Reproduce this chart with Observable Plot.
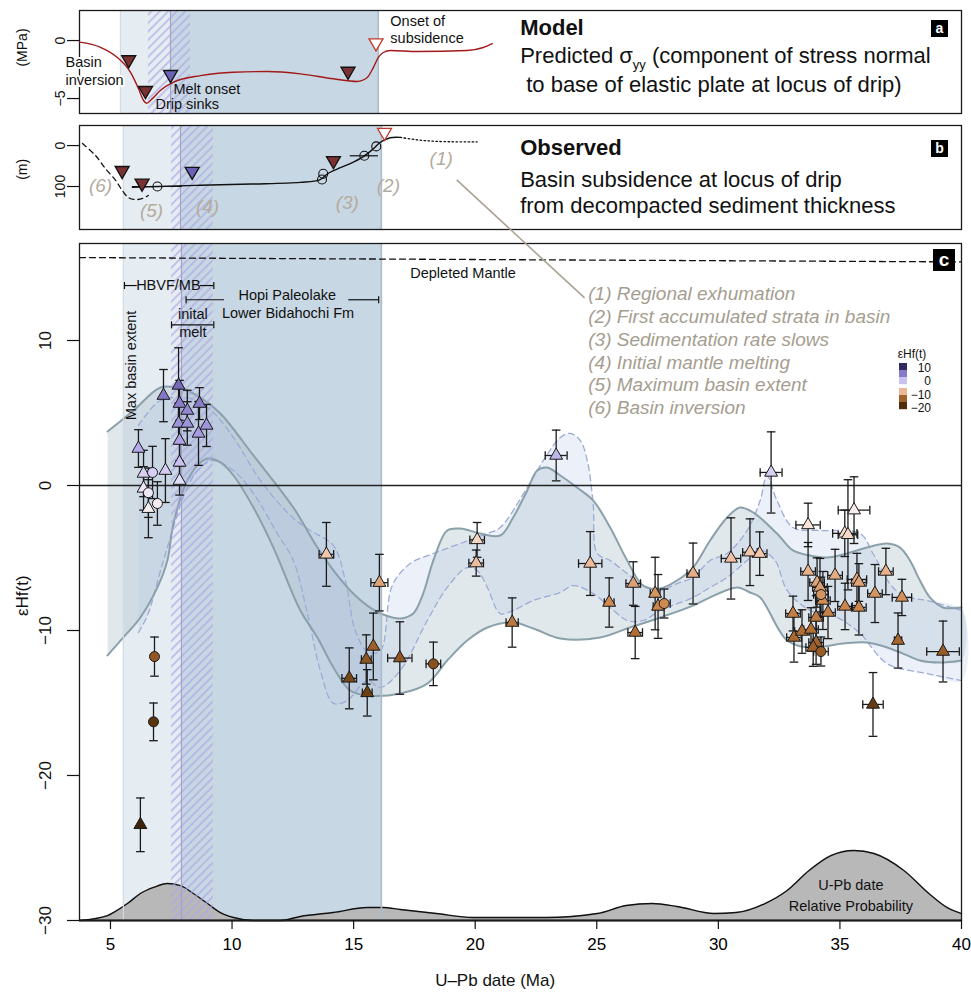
<!DOCTYPE html>
<html><head><meta charset="utf-8">
<script src="https://cdn.jsdelivr.net/npm/d3@7"></script>
<script src="https://cdn.jsdelivr.net/npm/@observablehq/plot@0.6"></script>
<style>
body{margin:0;background:#fff;font-family:"Liberation Sans",Arial,sans-serif;}
#wrap{position:relative;width:971px;height:992px;overflow:hidden;background:#fff;}
.tag{position:absolute;background:#000;color:#fff;font-weight:bold;text-align:center;font-family:"Liberation Sans",Arial,sans-serif;}
</style></head><body><div id="wrap"></div>
<script>
// ---------------- shared ----------------
const X_DOMAIN = [3.726, 40];
const xTicksC = [5, 10, 15, 20, 25, 30, 35, 40];

// shaded periods [start, end] (Ma) per panel
const bandLightA = [5.41, 16.01], bandDarkA = [7.47, 16.01], hatchA = [6.56, 8.29];
const bandLightB = [5.53, 16.14], bandDarkB = [7.88, 16.14], hatchB = [7.51, 9.23];
const bandLightC = [5.53, 16.14], bandDarkC = [7.92, 16.14], hatchC = [7.51, 9.23];

// ---------------- panel a : model ----------------
const yDomainA = [-6.29, 2.59];
const yTicksA = [0, -5];
const modelAge = [3.73, 4.59, 5.27, 5.82, 6.15, 6.36, 6.48, 6.71, 7.05, 7.59, 8.7, 10.06, 11.45, 12.81, 14.17, 15.15, 15.56, 15.81, 16.01, 16.22, 16.51, 17.62, 19.67, 20.33, 20.7];
const modelSigma = [-0.14, -0.58, -1.44, -2.73, -4.14, -5.17, -5.4, -5.03, -4.31, -3.59, -3.02, -2.73, -2.67, -2.87, -3.3, -3.53, -3.19, -2.33, -1.47, -1.03, -0.86, -0.95, -0.86, -0.6, -0.26];
const markAAge = [5.75, 6.44, 7.47, 14.77, 15.92];
const markASigma = [-1.66, -4.31, -2.93, -2.65, -0.2];
const markAType = ["red", "red", "melt", "red", "open"];
const noteAText = ["Basin", "inversion", "Melt onset", "Drip sinks", "Onset of", "subsidence"];
const noteAAge = [3.15, 3.15, 7.59, 6.85, 16.51, 16.51];
const noteASigma = [-1.9, -3.45, -4.22, -5.52, 1.64, 0.17];

// ---------------- panel b : observed ----------------
const yDomainB = [205, -49];
const yTicksB = [0, 100];
const subAge = [5.9, 6.97, 8.7, 10.8, 12.8, 13.6, 13.9, 14.3, 14.86, 15.4, 15.81, 16.1, 16.5, 16.92];
const subDepth = [102, 100, 97, 94, 90, 84, 70, 58, 44, 27, 8, -8, -19, -20];
const subDashAge = [3.85, 4.38, 4.79, 5.21, 5.49, 5.74, 6.03, 6.32, 6.56];
const subDashDepth = [-5, 24, 56, 85, 110, 127, 132, 129, 122];
const subDotAge = [16.92, 17.6, 18.5, 20.08];
const subDotDepth = [-20, -14, -10, -9];
const subCircAge = [6.93, 13.7, 13.75, 15.44, 15.93];
const subCircDepth = [100, 83, 69, 25, 2];
const subCircAgeErr = [1.03, 0, 0, 0.58, 0];
const markBAge = [5.48, 6.3, 8.36, 14.17, 16.27];
const markBDepth = [61, 92, 63, 37, -32];
const markBType = ["red", "red", "melt", "red", "open"];
const eventLabel = ["(1)", "(2)", "(3)", "(4)", "(5)", "(6)"];
const eventAge = [18.6, 16.43, 14.74, 8.99, 6.69, 4.59];
const eventDepth = [32, 98, 139, 151, 159, 98];
const connFrom = [19.26, 85];   // panel b (Ma, m)
const connTo = [24.52, 12.9];   // panel c (Ma, εHf)

// ---------------- panel c : εHf(t) ----------------
const yDomainC = [-30, 16.69];
const yTicksC = [-30, -20, -10, 0, 10];
const hfAge = [6.15, 6.36, 6.36, 6.56, 6.73, 6.56, 6.93, 7.18, 7.26, 7.80, 7.84, 8.16, 8.66, 7.80, 8.16, 8.95, 8.62, 7.84, 7.84, 7.84,
  6.81, 6.77, 6.23,
  13.88, 14.82, 15.52, 15.56, 15.81, 16.06, 16.9, 18.28, 20.08, 20.04, 21.52, 23.33, 24.73, 25.51, 26.5, 26.58, 27.4, 27.52, 27.77, 28.96, 30.52, 31.3, 31.7, 32.17,
  33.69, 35.58, 35.2, 35.33, 33.69, 34.06, 34.18, 34.8, 34.3, 34.22, 34.51, 35.21, 35.7, 35.78, 35.78, 36.44, 36.89, 37.55, 37.39, 39.24, 36.36, 33.07, 33.11, 33.44, 33.81, 34.02, 34.02, 33.9, 34.22];
const hfEps = [2.55, 0.83, -0.2, -1.6, 0.9, -0.5, -1.24, 6.2, 1.03, 6.9, 5.65, 5.17, 5.65, 4.28, 4.28, 4.14, 3.59, 3.1, 1.59, 0.34,
  -11.8, -16.3, -23.4,
  -4.75, -13.3, -12.0, -14.3, -11.1, -6.7, -11.9, -12.3, -3.75, -5.35, -9.45, 2.07, -5.38, -8.07, -6.76, -10.14, -7.45, -8.34, -8.14, -6.07, -5.03, -4.6, -4.7, 0.9,
  -2.72, -1.7, -3.3, -3.4, -5.93, -6.69, -7.03, -6.2, -7.93, -7.52, -8.76, -8.34, -6.48, -6.69, -8.41, -7.45, -5.93, -7.72, -10.69, -11.45, -15.1, -8.83, -10.48, -10.07, -9.93, -9.1, -10.83, -11.17, -11.45];
const hfErr = [1.3, 1.6, 1.5, 2.0, 1.8, 1.7, 1.5, 1.8, 2.2, 2.6, 1.6, 1.4, 1.1, 1.4, 1.5, 1.45, 2.2, 1.4, 1.3, 1.0,
  1.35, 1.3, 1.85,
  2.2, 2.1, 1.7, 1.6, 2.3, 1.95, 2.5, 1.5, 1.2, 0.9, 1.7, 1.75, 2.2, 1.7, 1.5, 1.8, 2.5, 2.2, 1.0, 2.1, 2.8, 2.3, 1.5, 2.8,
  1.5, 2.3, 1.6, 3.8, 2.0, 1.7, 2.0, 1.8, 2.0, 1.2, 1.8, 1.6, 1.8, 1.3, 1.9, 2.0, 1.6, 1.25, 1.9, 2.1, 2.2, 1.2, 1.7, 1.5, 1.5, 1.5, 1.5, 1.3, 1.0];
const hfAgeErr = [0, 0, 0, 0, 0, 0, 0, 0, 0, 0, 0, 0, 0, 0, 0, 0, 0, 0, 0, 0,
  0, 0, 0,
  0.3, 0.3, 0.2, 0.2, 0, 0.35, 0.5, 0.3, 0.3, 0.3, 0.25, 0.45, 0.48, 0.2, 0.3, 0.3, 0.2, 0.2, 0.25, 0.25, 0.4, 0.3, 0.3, 0.45,
  0.5, 0.65, 0.5, 0.4, 0.3, 0.3, 0.3, 0.3, 0.3, 0.3, 0.3, 0.3, 0.4, 0.3, 0.3, 0.3, 0.3, 0.4, 0.15, 0.67, 0.42, 0.3, 0.3, 0.3, 0.3, 0.3, 0.3, 0.3, 0.3];
const hfShape = ["t","t","t","t","c","c","c","t","t","t","t","t","t","t","t","t","t","t","t","t",
  "c","c","t",
  "t","t","t","t","t","t","t","c","t","t","t","t","t","t","t","t","t","t","c","t","t","t","t","t",
  "t","t","t","t","t","t","t","t","t","c","t","t","t","t","t","t","t","t","t","t","t","t","t","t","t","t","t","t","c"];

// envelopes (solid = A, dashed = B)
const envAUpAge = [4.88, 5.95, 7.06, 7.88, 8.70, 9.52, 10.88, 12.52, 13.51, 14.17, 14.86, 15.56, 16.22, 16.92, 17.45, 17.86, 18.28, 18.85, 19.39, 20.21, 21.03, 21.56, 22.14, 22.55, 22.96, 23.50, 24.19, 24.85, 25.55, 26.25, 26.91, 27.61, 28.30, 28.96, 29.66, 30.36, 30.89, 31.43, 32.41, 33.07, 33.77, 34.47, 35.29, 36.11, 36.94, 37.47, 37.88, 38.29, 38.70, 39.24, 40.0];
const envAUpEps = [3.72, 5.17, 6.76, 6.69, 6.07, 4.97, 2.07, -1.52, -4.28, -5.86, -7.24, -8.28, -8.90, -9.17, -8.83, -7.45, -5.17, -3.10, -2.97, -3.31, -3.45, -2.21, -0.34, 1.03, 1.24, 0.69, -0.14, -1.03, -2.90, -5.17, -6.90, -7.10, -6.55, -5.66, -3.79, -2.21, -1.52, -1.86, -3.31, -4.48, -4.83, -4.97, -4.69, -4.28, -4.00, -4.28, -5.17, -6.55, -7.72, -8.41, -8.41];
const envALoAge = [4.88, 5.53, 6.23, 6.93, 7.34, 7.59, 8.16, 8.70, 9.03, 9.52, 10.06, 10.88, 11.70, 12.81, 13.51, 14.17, 14.86, 15.56, 16.92, 18.03, 18.85, 19.67, 20.50, 21.56, 22.39, 23.50, 25.14, 26.25, 27.61, 28.96, 29.66, 30.77, 31.30, 31.72, 32.83, 33.77, 35.13, 36.11, 36.94, 37.59, 38.29, 39.11, 40.0];
const envALoEps = [-11.72, -10.48, -9.10, -7.03, -5.17, -2.62, 0.34, 1.59, 1.86, 1.59, 0.69, -1.52, -4.28, -8.62, -10.48, -12.55, -14.14, -14.48, -14.34, -13.66, -12.07, -10.69, -9.79, -9.45, -9.86, -10.55, -10.48, -9.86, -9.10, -8.28, -7.72, -7.03, -7.38, -7.72, -10.69, -11.17, -10.90, -10.83, -11.17, -11.59, -12.07, -12.21, -12.07];
const envBUpAge = [6.15, 7.06, 8.29, 9.23, 10.14, 11.17, 12.40, 13.22, 14.17, 14.66, 15.07, 15.60, 16.10, 16.59, 17.33, 18.28, 19.39, 20.50, 21.03, 22.14, 22.88, 23.50, 23.91, 24.32, 24.61, 24.85, 25.02, 25.55, 26.25, 26.91, 27.61, 28.30, 28.96, 29.66, 30.36, 31.18, 31.72, 32.00, 32.41, 33.07, 34.18, 35.83, 36.36, 37.18, 37.88, 38.58, 40.0];
const envBUpEps = [4.14, 5.86, 6.00, 5.03, 3.10, 0.34, -2.07, -3.10, -4.14, -6.55, -10.0, -11.52, -11.38, -6.90, -5.38, -4.69, -4.00, -3.31, -2.90, -0.14, 1.93, 3.31, 3.59, 3.10, 1.72, -1.24, -4.69, -5.17, -6.07, -6.90, -7.24, -6.76, -6.34, -5.17, -4.69, -3.10, -1.03, 0.69, -1.03, -2.90, -3.10, -3.31, -4.69, -7.03, -7.72, -7.93, -8.62];
const envBLoAge = [6.15, 6.52, 7.18, 8.16, 8.70, 9.23, 10.06, 10.88, 11.86, 12.52, 13.10, 13.63, 14.17, 14.74, 15.56, 16.10, 16.92, 18.03, 18.85, 19.67, 20.08, 20.50, 21.03, 21.56, 22.39, 23.50, 24.03, 24.85, 25.55, 26.25, 26.91, 27.61, 28.96, 29.66, 30.36, 31.18, 31.72, 32.33, 32.83, 33.77, 34.88, 35.83, 36.94, 38.58, 40.0];
const envBLoEps = [-10.14, -8.97, -5.17, -0.14, 1.24, 1.72, 1.03, -0.55, -3.31, -5.17, -8.83, -12.76, -15.03, -14.83, -13.45, -13.93, -12.76, -9.31, -7.03, -5.66, -5.86, -7.03, -8.83, -8.62, -7.93, -7.38, -6.90, -7.45, -8.41, -9.31, -9.31, -8.62, -7.72, -7.03, -6.34, -5.17, -4.48, -5.17, -7.24, -8.62, -9.10, -10.21, -12.28, -12.97, -13.45];

// U-Pb date relative probability (height above the -30 baseline, in axis units)
const denAge = [3.73, 4.88, 5.12, 5.70, 6.23, 6.77, 7.34, 7.88, 8.41, 8.99, 9.52, 10.06, 10.88, 11.99, 12.81, 14.17, 15.56, 16.22, 16.92, 18.40, 19.92, 22.92, 25.02, 26.21, 27.28, 28.30, 29.82, 30.73, 31.92, 32.83, 33.73, 34.63, 35.58, 36.40, 37.63, 38.66, 39.40, 40.0];
const denHeight = [0, 0.34, 0.55, 1.17, 1.86, 2.28, 2.55, 2.41, 1.86, 1.17, 0.55, 0.21, 0, 0, 0.28, 0.55, 0.90, 0.90, 0.76, 0.48, 0.21, 0.21, 0.48, 1.03, 1.17, 0.97, 0.48, 0.55, 1.17, 2.07, 3.45, 4.48, 4.83, 4.62, 3.45, 1.86, 0.90, 0.48];

const dmAge = [3.726, 40];
const dmEps = [15.72, 15.42];

const noteCText = ["HBVF/MB", "Hopi Paleolake", "Lower Bidahochi Fm", "inital", "melt", "Depleted Mantle"];
const noteCAge = [7.38, 12.27, 12.3, 8.39, 8.39, 19.5];
const noteCEps = [13.79, 13.1, 11.88, 11.79, 10.57, 14.62];
const bracketX1 = [5.575, 8.7, 8.11, 14.8, 7.51];
const bracketX2 = [6.1, 9.25, 9.69, 16.03, 9.25];
const bracketEps = [13.79, 13.79, 12.81, 12.81, 11.08];
const bracketEndAge = [5.575, 9.25, 8.11, 16.03, 7.51, 9.25];
const bracketEndEps = [13.79, 13.79, 12.81, 12.81, 11.08, 11.08];
const eventText = ["(1) Regional exhumation", "(2) First accumulated strata in basin", "(3) Sedimentation rate slows", "(4) Initial mantle melting", "(5) Maximum basin extent", "(6) Basin inversion"];
const eventTextEps = [13.24, 11.66, 10.07, 8.48, 6.97, 5.38];
const eventTextAge = 24.65;
const densLabel = ["U-Pb date", "Relative Probability"];
const densLabelAge = 35.45;
const densLabelEps = [-27.6, -29.05];

const colorDomain = [-24, -16, -13, -10, -8, -5, -2, 0, 2.5, 6.5, 10];
const colorRange = ["#3a2106", "#5c360f", "#7a4818", "#b46f35", "#cf8b52", "#f1c2a4", "#fbefe9", "#e8e4f9", "#b5ace8", "#8073c5", "#2f2a5c"];
const legendValues = [10, 6, 1.5, -5.5, -11, -19];
const legendLabels = ["10", "0", "\u221210", "\u221220"];

// ---------------- helpers ----------------
const FONT = "Liberation Sans, Arial, Helvetica, sans-serif";
const W = 971, ML = 79, MR = 10;
const TOP_A = 0, TOP_B = 120, TOP_C = 234;
const LIGHT = "#e5ecf2", DARK = "#c8d7e4";
const wrap = document.getElementById("wrap");
const ns = "http://www.w3.org/2000/svg";
const minus = v => v < 0 ? "\u2212" + Math.abs(v) : String(v);
const capH = {draw(ctx, size) { const r = Math.sqrt(size / Math.PI); ctx.moveTo(-r, 0); ctx.lineTo(r, 0); }};
const capV = {draw(ctx, size) { const r = Math.sqrt(size / Math.PI); ctx.moveTo(0, -r); ctx.lineTo(0, r); }};
const zip = (a, b) => a.map((v, i) => [v, b[i]]);
function addHatch(svg, id) {
  const defs = document.createElementNS(ns, "defs");
  defs.innerHTML = `<pattern id="${id}" patternUnits="userSpaceOnUse" width="6" height="6" patternTransform="rotate(45)"><rect x="0" y="0" width="2" height="6" fill="#aca5e4" fill-opacity="0.6"/></pattern>`;
  svg.insertBefore(defs, svg.firstChild);
}
function place(el, top) { el.style.position = "absolute"; el.style.left = "0px"; el.style.top = top + "px"; wrap.appendChild(el); return el; }
function bandMarks(light, dark, yd) {
  const lo = Math.min(...yd), hi = Math.max(...yd);
  return [
    Plot.rect([light], {x1: d => d[0], x2: d => d[1], y1: lo, y2: hi, fill: LIGHT}),
    Plot.rect([dark], {x1: d => d[0], x2: d => d[1], y1: lo, y2: hi, fill: DARK}),
  ];
}
function hatchMarks(light, dark, hatch, yd, id) {
  const lo = Math.min(...yd), hi = Math.max(...yd);
  return [
    Plot.rect([hatch], {x1: d => d[0], x2: d => d[1], y1: lo, y2: hi, fill: `url(#${id})`}),
    Plot.ruleX([light[0]], {stroke: "#d2dbe4", strokeWidth: 1.2}),
    Plot.ruleX([light[1]], {stroke: "#a9bbcb", strokeWidth: 1.6}),
    Plot.ruleX([dark[0]], {stroke: "#a4a2cc", strokeWidth: 1.2})
  ];
}
function yAxisMarks(ticks, fontSize, labelX) {
  return [
    Plot.axisY({ticks, tickSize: 12, tickFormat: () => "", stroke: "#111", strokeWidth: 1.2, label: null}),
    Plot.text(ticks, {x: X_DOMAIN[0], y: d => d, text: minus, rotate: -90, dx: labelX - ML, fontSize, fill: "#111"})
  ];
}
const markFill = {red: "#7a3131", melt: "#6c62b5", open: "#ffffff"};
const markStroke = {red: "#111", melt: "#111", open: "#c0392b"};

// ---------------- panel a ----------------
const model = zip(modelAge, modelSigma);
const markA = markAAge.map((a, i) => ({age: a, v: markASigma[i], type: markAType[i]}));
const chartA = Plot.plot({
  width: W, height: 120, marginLeft: ML, marginRight: MR, marginTop: 10, marginBottom: 7,
  x: {domain: X_DOMAIN, axis: null},
  y: {domain: yDomainA, axis: null},
  style: {fontFamily: FONT, background: "transparent", overflow: "visible"},
  marks: [
    ...bandMarks(bandLightA, bandDarkA, yDomainA),
    ...hatchMarks(bandLightA, bandDarkA, hatchA, yDomainA, "hatchA"),
    Plot.frame({stroke: "#1a1a1a", strokeWidth: 1.3}),
    ...yAxisMarks(yTicksA, 14, 60),
    Plot.text(["(MPa)"], {x: X_DOMAIN[0], y: -0.6, dx: 22 - ML, rotate: -90, fontSize: 14, fill: "#111"}),
    Plot.text(noteAText, {x: (d, i) => noteAAge[i], y: (d, i) => noteASigma[i], text: d => d, textAnchor: "start", fontSize: 14.5, fill: "#111", stroke: (d, i) => i < 2 ? "white" : "none", strokeWidth: 4}),
    Plot.line(model, {x: d => d[0], y: d => d[1], stroke: "#a31818", strokeWidth: 1.4, curve: "monotone-x"}),
    Plot.dot(markA, {x: "age", y: "v", symbol: "triangle", rotate: 180, r: 5.2, fill: d => markFill[d.type], stroke: d => markStroke[d.type], strokeWidth: 1.3}),
    Plot.text(["Model"], {x: 21.85, y: 1.12, textAnchor: "start", fontSize: 22, fontWeight: "bold", fill: "#111"}),
    Plot.text(["Predicted \u03c3yy (component of stress normal"], {x: 21.85, y: -1.35, textAnchor: "start", fontSize: 22, fill: "#111"}),
    Plot.text(["to base of elastic plate at locus of drip)"], {x: 21.85, y: -3.8, dx: 6, textAnchor: "start", fontSize: 22, fill: "#111"})
  ]
});
addHatch(chartA, "hatchA");
place(chartA, TOP_A);
chartA.querySelectorAll("text").forEach(t => {
  if (t.textContent.includes("\u03c3yy")) {
    t.innerHTML = 'Predicted \u03c3<tspan font-size="13" dy="6">yy</tspan><tspan dy="-6"> (component of stress normal</tspan>';
  }
});

// ---------------- panel b ----------------
const markB = markBAge.map((a, i) => ({age: a, v: markBDepth[i], type: markBType[i]}));
const circB = subCircAge.map((a, i) => ({age: a, v: subCircDepth[i], e: subCircAgeErr[i]}));
const chartB = Plot.plot({
  width: W, height: 114, marginLeft: ML, marginRight: MR, marginTop: 5, marginBottom: 5,
  x: {domain: X_DOMAIN, axis: null},
  y: {domain: yDomainB, axis: null},
  style: {fontFamily: FONT, background: "transparent", overflow: "visible"},
  marks: [
    ...bandMarks(bandLightB, bandDarkB, yDomainB),
    ...hatchMarks(bandLightB, bandDarkB, hatchB, yDomainB, "hatchB"),
    Plot.frame({stroke: "#1a1a1a", strokeWidth: 1.3}),
    ...yAxisMarks(yTicksB, 14, 60),
    Plot.text(["(m)"], {x: X_DOMAIN[0], y: 58, dx: 22 - ML, rotate: -90, fontSize: 14, fill: "#111"}),
    Plot.text(eventLabel, {x: (d, i) => eventAge[i], y: (d, i) => eventDepth[i], text: d => d, fontSize: 19, fontStyle: "italic", fill: "#b3ab9d"}),
    Plot.line(zip(subDashAge, subDashDepth), {x: d => d[0], y: d => d[1], stroke: "#111", strokeWidth: 1.3, strokeDasharray: "5,4", curve: "catmull-rom"}),
    Plot.line(zip(subAge, subDepth), {x: d => d[0], y: d => d[1], stroke: "#111", strokeWidth: 1.4, curve: "catmull-rom"}),
    Plot.line(zip(subDotAge, subDotDepth), {x: d => d[0], y: d => d[1], stroke: "#111", strokeWidth: 1.3, strokeDasharray: "1.5,2.5", curve: "catmull-rom"}),
    Plot.ruleY(circB.filter(d => d.e > 0), {y: "v", x1: d => d.age - d.e, x2: d => d.age + d.e, stroke: "#111", strokeWidth: 1.2}),
    Plot.dot(circB, {x: "age", y: "v", r: 4.5, fill: "none", stroke: "#111", strokeWidth: 1.1}),
    Plot.dot(markB, {x: "age", y: "v", symbol: "triangle", rotate: 180, r: 5.2, fill: d => markFill[d.type], stroke: d => markStroke[d.type], strokeWidth: 1.3}),
    Plot.text(["Observed"], {x: 21.85, y: 7, textAnchor: "start", fontSize: 22, fontWeight: "bold", fill: "#111"}),
    Plot.text(["Basin subsidence at locus of drip"], {x: 21.85, y: 85, textAnchor: "start", fontSize: 22, fill: "#111"}),
    Plot.text(["from decompacted sediment thickness"], {x: 21.85, y: 148, textAnchor: "start", fontSize: 22, fill: "#111"})
  ]
});
addHatch(chartB, "hatchB");
place(chartB, TOP_B);

// ---------------- panel c ----------------
const hf = hfAge.map((a, i) => ({age: a, eps: hfEps[i], err: hfErr[i], aerr: hfAgeErr[i], shape: hfShape[i]}));
const polyA = [...zip(envAUpAge, envAUpEps), ...zip(envALoAge, envALoEps).reverse()];
const polyB = [...zip(envBUpAge, envBUpEps), ...zip(envBLoAge, envBLoEps).reverse()];
const dens = zip(denAge, denHeight);
const brackets = bracketX1.map((x1, i) => ({x1, x2: bracketX2[i], y: bracketEps[i]}));
const chartC = Plot.plot({
  width: W, height: 758, marginLeft: ML, marginRight: MR, marginTop: 9, marginBottom: 72,
  x: {domain: X_DOMAIN, axis: null},
  y: {domain: yDomainC, axis: null},
  color: {type: "linear", domain: colorDomain, range: colorRange},
  style: {fontFamily: FONT, background: "transparent", overflow: "visible"},
  marks: [
    ...bandMarks(bandLightC, bandDarkC, yDomainC),
    Plot.line(polyA, {x: d => d[0], y: d => d[1], fill: "#a6bcc6", fillOpacity: 0.34, stroke: "none", curve: "catmull-rom"}),
    Plot.line(polyB, {x: d => d[0], y: d => d[1], fill: "#b9cbe9", fillOpacity: 0.27, stroke: "none", curve: "catmull-rom"}),
    Plot.line(zip(envBUpAge, envBUpEps), {x: d => d[0], y: d => d[1], stroke: "#9dabd6", strokeWidth: 1.3, strokeDasharray: "6,4", curve: "catmull-rom"}),
    Plot.line(zip(envBLoAge, envBLoEps), {x: d => d[0], y: d => d[1], stroke: "#9dabd6", strokeWidth: 1.3, strokeDasharray: "6,4", curve: "catmull-rom"}),
    Plot.line(zip(envAUpAge, envAUpEps), {x: d => d[0], y: d => d[1], stroke: "#8aa0aa", strokeWidth: 2, curve: "catmull-rom"}),
    Plot.line(zip(envALoAge, envALoEps), {x: d => d[0], y: d => d[1], stroke: "#8aa0aa", strokeWidth: 2, curve: "catmull-rom"}),
    Plot.areaY(dens, {x: d => d[0], y1: yDomainC[0], y2: d => yDomainC[0] + d[1], fill: "#b8b8b8", curve: "monotone-x"}),
    Plot.line(dens, {x: d => d[0], y: d => yDomainC[0] + d[1], stroke: "#111", strokeWidth: 1.4, curve: "monotone-x"}),
    ...hatchMarks(bandLightC, bandDarkC, hatchC, yDomainC, "hatchC"),
    Plot.ruleY([0], {stroke: "#222", strokeWidth: 1.3}),
    Plot.line(zip(dmAge, dmEps), {x: d => d[0], y: d => d[1], stroke: "#111", strokeWidth: 1.3, strokeDasharray: "6,4"}),
    Plot.ruleY([yDomainC[0]], {stroke: "#111", strokeWidth: 2.2}),
    Plot.frame({stroke: "#1a1a1a", strokeWidth: 1.3}),
    Plot.axisX({ticks: xTicksC, tickSize: 9, tickPadding: 8, fontSize: 17, stroke: "#111", strokeWidth: 1.2, label: null, tickFormat: d => String(d)}),
    ...yAxisMarks(yTicksC, 17, 45),
    Plot.text(["\u03b5Hf(t)"], {x: X_DOMAIN[0], y: -7.6, dx: 22 - ML, rotate: -90, fontSize: 17, fill: "#111"}),
    Plot.text(["U\u2013Pb date (Ma)"], {x: 20.82, y: yDomainC[0], dy: 60, fontSize: 17, fill: "#111"}),
    Plot.text(densLabel, {x: densLabelAge, y: (d, i) => densLabelEps[i], text: d => d, fontSize: 14.5, fill: "#111"}),
    Plot.text(["Max basin extent"], {x: 5.86, y: 8.28, rotate: -90, fontSize: 14.5, fill: "#111"}),
    Plot.text(noteCText, {x: (d, i) => noteCAge[i], y: (d, i) => noteCEps[i], text: d => d, fontSize: 14.5, fill: "#111"}),
    Plot.ruleY(brackets, {y: "y", x1: "x1", x2: "x2", stroke: "#111", strokeWidth: 1.2}),
    Plot.dot(bracketEndAge.map((a, i) => [a, bracketEndEps[i]]), {x: d => d[0], y: d => d[1], symbol: capV, r: 3.5, stroke: "#111", strokeWidth: 1.2, fill: "none"}),
    Plot.text(eventText, {x: eventTextAge, y: (d, i) => eventTextEps[i], text: d => d, textAnchor: "start", fontSize: 19, fontStyle: "italic", fill: "#a59d8f"}),
    // error bars
    Plot.ruleX(hf, {x: "age", y1: d => d.eps - d.err, y2: d => d.eps + d.err, stroke: "#1a1a1a", strokeWidth: 1.3}),
    Plot.dot(hf, {x: "age", y: d => d.eps + d.err, symbol: capH, r: 4.3, stroke: "#1a1a1a", strokeWidth: 1.3, fill: "none"}),
    Plot.dot(hf, {x: "age", y: d => d.eps - d.err, symbol: capH, r: 4.3, stroke: "#1a1a1a", strokeWidth: 1.3, fill: "none"}),
    Plot.ruleY(hf.filter(d => d.aerr > 0), {y: "eps", x1: d => d.age - d.aerr, x2: d => d.age + d.aerr, stroke: "#1a1a1a", strokeWidth: 1.3}),
    Plot.dot(hf.filter(d => d.aerr > 0), {x: d => d.age - d.aerr, y: "eps", symbol: capV, r: 4.3, stroke: "#1a1a1a", strokeWidth: 1.3, fill: "none"}),
    Plot.dot(hf.filter(d => d.aerr > 0), {x: d => d.age + d.aerr, y: "eps", symbol: capV, r: 4.3, stroke: "#1a1a1a", strokeWidth: 1.3, fill: "none"}),
    Plot.dot(hf.filter(d => d.shape === "t"), {x: "age", y: "eps", symbol: "triangle", r: 4.8, fill: "eps", stroke: "#1a1a1a", strokeWidth: 1}),
    Plot.dot(hf.filter(d => d.shape === "c"), {x: "age", y: "eps", r: 5, fill: "eps", stroke: "#1a1a1a", strokeWidth: 1})
  ]
});
addHatch(chartC, "hatchC");
place(chartC, TOP_C);

// ---------------- overlay: connector, legend ----------------
const ov = document.createElementNS(ns, "svg");
ov.setAttribute("width", W); ov.setAttribute("height", 992);
ov.style.position = "absolute"; ov.style.left = "0px"; ov.style.top = "0px"; ov.style.pointerEvents = "none";
wrap.appendChild(ov);
const sxB = chartB.scale("x"), syB = chartB.scale("y"), sxC = chartC.scale("x"), syC = chartC.scale("y"), sc = chartC.scale("color");
const conn = document.createElementNS(ns, "line");
conn.setAttribute("x1", sxB.apply(connFrom[0])); conn.setAttribute("y1", TOP_B + syB.apply(connFrom[1]));
conn.setAttribute("x2", sxC.apply(connTo[0])); conn.setAttribute("y2", TOP_C + syC.apply(connTo[1]));
conn.setAttribute("stroke", "#aaa293"); conn.setAttribute("stroke-width", "1.6");
ov.appendChild(conn);

const lg = document.createElementNS(ns, "g");
lg.setAttribute("font-family", FONT); lg.setAttribute("font-size", "12"); lg.setAttribute("fill", "#111");
const swY = [363, 370, 377, 388, 395, 402];
legendValues.forEach((v, i) => {
  const r = document.createElementNS(ns, "rect");
  r.setAttribute("x", 899); r.setAttribute("y", swY[i]); r.setAttribute("width", 8); r.setAttribute("height", 7.2);
  r.setAttribute("fill", sc.apply(v));
  lg.appendChild(r);
});
const lgTitle = document.createElementNS(ns, "text");
lgTitle.setAttribute("x", 912); lgTitle.setAttribute("y", 358); lgTitle.setAttribute("text-anchor", "middle");
lgTitle.textContent = "\u03b5Hf(t)"; lg.appendChild(lgTitle);
const lgLabY = [371.5, 385, 398.5, 412];
legendLabels.forEach((s, i) => {
  const t = document.createElementNS(ns, "text");
  t.setAttribute("x", 931); t.setAttribute("y", lgLabY[i]); t.setAttribute("text-anchor", "end");
  t.textContent = s; lg.appendChild(t);
});
ov.appendChild(lg);

// panel tags
[["a", 931, 20, 17], ["b", 931, 140, 17], ["c", 933, 249, 22]].forEach(([s, x, y, sz]) => {
  const d = document.createElement("div");
  d.className = "tag"; d.textContent = s;
  d.style.left = x + "px"; d.style.top = y + "px"; d.style.width = sz + "px"; d.style.height = sz + "px";
  d.style.lineHeight = sz + "px"; d.style.fontSize = (sz - 3) + "px";
  wrap.appendChild(d);
});
</script></body></html>
